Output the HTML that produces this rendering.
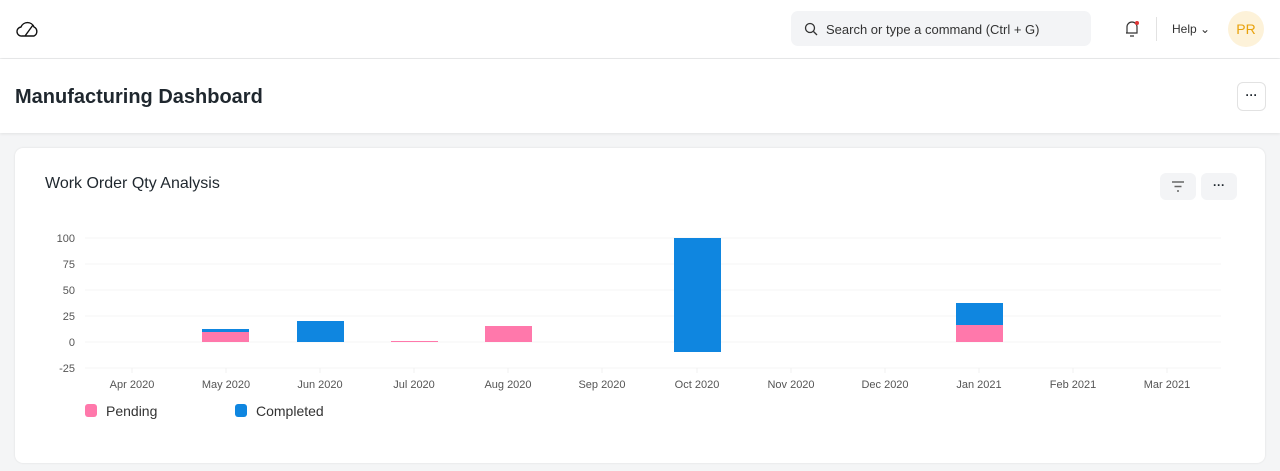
<!DOCTYPE html>
<html><head><meta charset="utf-8"><style>
*{box-sizing:border-box;margin:0;padding:0}
body{width:1280px;height:471px;overflow:hidden;background:#f4f5f6;font-family:"Liberation Sans",sans-serif;color:#1f272e;position:relative}
.nav{position:absolute;left:0;top:0;width:1280px;height:58px;background:#fff;box-shadow:0 1px 3px rgba(0,0,0,0.08)}
.search{position:absolute;left:791px;top:11px;width:300px;height:35px;background:#f3f4f6;border-radius:7px;font-size:13px;color:#333;padding:11px 0 0 35px}
.title{position:absolute;left:0;top:59px;width:1280px;height:74px;background:#fff;box-shadow:0 1px 3px rgba(0,0,0,0.08)}
.card{position:absolute;left:15px;top:148px;width:1250px;height:315px;background:#fff;border-radius:8px;box-shadow:0 0 2px rgba(0,0,0,0.1)}
.btn{position:absolute;background:#f3f4f6;border-radius:6px}
</style></head><body>
<div class="nav">
<svg style="position:absolute;left:16px;top:20px" width="24" height="18" viewBox="0 0 24 18"><path d="M6 16 H18 A5 5 0 0 0 18 7 A7 7 0 0 0 5 7 A4.5 4.5 0 0 0 6 16 Z M9 16 L17 5" fill="none" stroke="#111" stroke-width="1.4"/></svg>
<div class="search">Search or type a command (Ctrl + G)</div>
<svg style="position:absolute;left:804px;top:22px" width="14" height="14"><circle cx="6" cy="6" r="4.5" fill="none" stroke="#333" stroke-width="1.3"/><line x1="9.5" y1="9.5" x2="13" y2="13" stroke="#333" stroke-width="1.3"/></svg>
<svg style="position:absolute;left:1123px;top:19px" width="18" height="20"><path d="M4 14 V8 A5 5 0 0 1 14 8 V14 H3 M7 17 H11" fill="none" stroke="#333" stroke-width="1.2"/><circle cx="14" cy="4" r="2" fill="#e03636"/></svg>
<div style="position:absolute;left:1156px;top:17px;width:1px;height:24px;background:#e2e2e2"></div>
<div style="position:absolute;left:1172px;top:22px;font-size:12px;color:#333">Help ⌄</div>
<div style="position:absolute;left:1228px;top:11px;width:36px;height:36px;border-radius:50%;background:#fdf2d9;color:#e8a20c;font-size:14px;text-align:center;line-height:36px">PR</div>
</div>
<div class="title">
<div style="position:absolute;left:15px;top:27px;font-size:20px;font-weight:bold">Manufacturing Dashboard</div>
<div style="position:absolute;left:1237px;top:23px;width:29px;height:29px;border:1px solid #e2e2e2;border-radius:6px;background:#fff;text-align:center;font-size:12px;line-height:24px;font-weight:bold">···</div>
</div>
<div class="card">
<div style="position:absolute;left:30px;top:27px;font-size:16px">Work Order Qty Analysis</div>
<div class="btn" style="left:1145px;top:25px;width:36px;height:27px"><svg width="36" height="27"><path d="M12 9 H24 M14.5 13.5 H21.5 M17 18 H19" stroke="#666" stroke-width="1.4"/></svg></div>
<div class="btn" style="left:1186px;top:25px;width:36px;height:27px;text-align:center;font-size:12px;line-height:24px;font-weight:bold">···</div>
</div>
<svg style="position:absolute;left:0;top:0" width="1280" height="471" font-family="Liberation Sans, sans-serif">
<g stroke="#f5f5f6" stroke-width="1">
<line x1="85" x2="1221" y1="238" y2="238"/><line x1="85" x2="1221" y1="264" y2="264"/><line x1="85" x2="1221" y1="290" y2="290"/><line x1="85" x2="1221" y1="316" y2="316"/><line x1="85" x2="1221" y1="342" y2="342"/><line x1="85" x2="1221" y1="368" y2="368"/>
</g>
<g font-size="11" fill="#555" text-anchor="end">
<text x="75" y="242">100</text><text x="75" y="268">75</text><text x="75" y="294">50</text><text x="75" y="320">25</text><text x="75" y="346">0</text><text x="75" y="372">-25</text>
</g>
<g stroke="#f0f0f0"><line x1="132" x2="132" y1="368" y2="373"/><line x1="226" x2="226" y1="368" y2="373"/><line x1="320" x2="320" y1="368" y2="373"/><line x1="414" x2="414" y1="368" y2="373"/><line x1="508" x2="508" y1="368" y2="373"/><line x1="602" x2="602" y1="368" y2="373"/><line x1="697" x2="697" y1="368" y2="373"/><line x1="791" x2="791" y1="368" y2="373"/><line x1="885" x2="885" y1="368" y2="373"/><line x1="979" x2="979" y1="368" y2="373"/><line x1="1073" x2="1073" y1="368" y2="373"/><line x1="1167" x2="1167" y1="368" y2="373"/></g>
<g font-size="11" fill="#555" text-anchor="middle">
<text x="132" y="388">Apr 2020</text><text x="226" y="388">May 2020</text><text x="320" y="388">Jun 2020</text><text x="414" y="388">Jul 2020</text><text x="508" y="388">Aug 2020</text><text x="602" y="388">Sep 2020</text><text x="697" y="388">Oct 2020</text><text x="791" y="388">Nov 2020</text><text x="885" y="388">Dec 2020</text><text x="979" y="388">Jan 2021</text><text x="1073" y="388">Feb 2021</text><text x="1167" y="388">Mar 2021</text>
</g>
<g>
<rect x="202" y="332" width="47" height="10" fill="#ff78ab"/><rect x="202" y="329" width="47" height="3" fill="#0f86e0"/>
<rect x="297" y="321" width="47" height="21" fill="#0f86e0"/>
<rect x="391" y="341" width="47" height="1" fill="#ff78ab"/>
<rect x="485" y="326" width="47" height="16" fill="#ff78ab"/>
<rect x="674" y="238" width="47" height="114" fill="#0f86e0"/>
<rect x="956" y="325" width="47" height="17" fill="#ff78ab"/><rect x="956" y="303" width="47" height="22" fill="#0f86e0"/>
</g>
<rect x="85" y="404" width="12" height="13" rx="3" fill="#ff78ab"/>
<text x="106" y="416" font-size="14" fill="#333">Pending</text>
<rect x="235" y="404" width="12" height="13" rx="3" fill="#0f86e0"/>
<text x="256" y="416" font-size="14" fill="#333">Completed</text>
</svg>
</body></html>
